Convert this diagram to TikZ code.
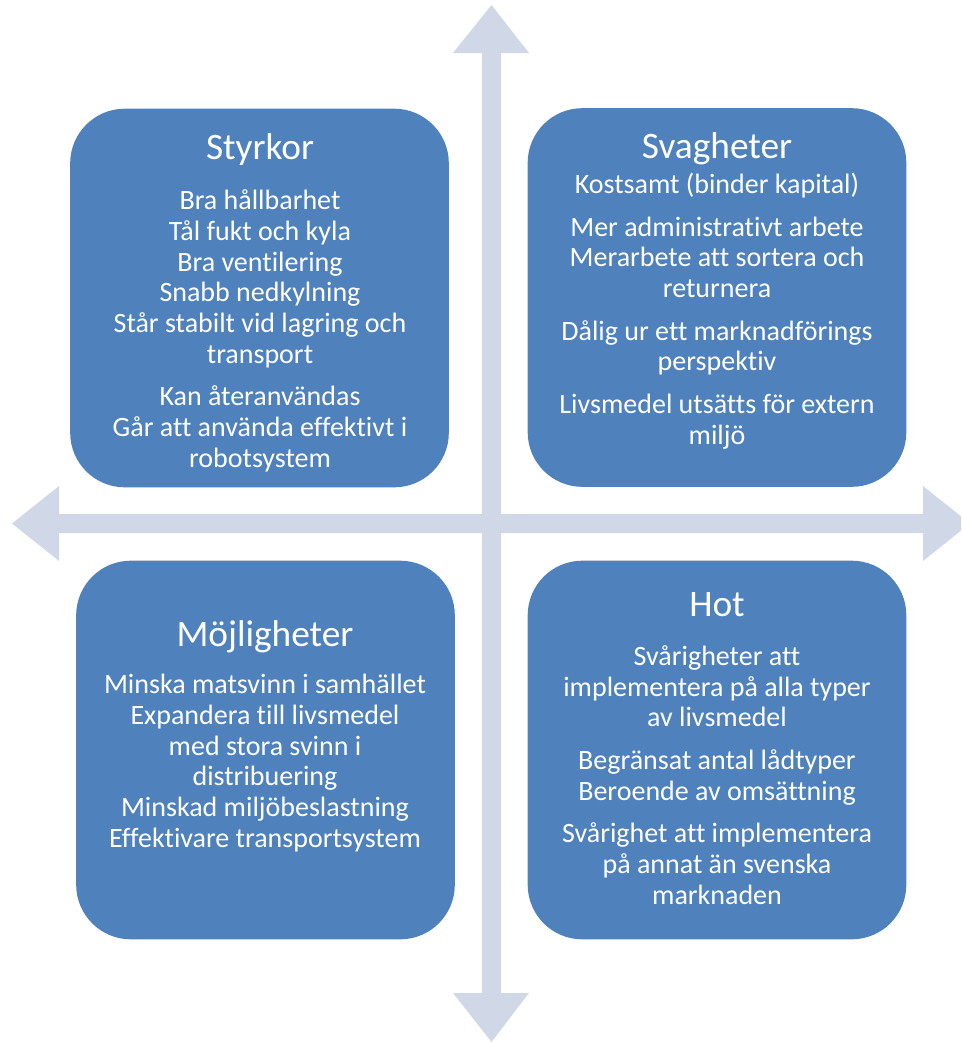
\documentclass[tikz,border=0pt]{standalone}
\usepackage{fontspec}
\setmainfont{Carlito}[Ligatures=CommonOff]
\usepackage{tikz}
\definecolor{swotblue}{HTML}{4F81BD}
\definecolor{axisgray}{HTML}{D0D8E8}
\tikzset{
	quad/.style={fill=swotblue, draw=none, rounded corners=41pt, minimum width=284pt, minimum height=284pt, inner sep=0pt},
	heading/.style={text=white, anchor=base, inner sep=0pt, font=\fontsize{28}{32}\selectfont},
	points/.style={text=white, anchor=base, align=center, inner sep=0pt, font=\fontsize{21}{23}\selectfont}
}

\begin{document}
\begin{tikzpicture}[x=0.75pt, y=-0.75pt]
			%%%%% START %%%%%
			\useasboundingbox (0, 0) rectangle (961, 1043);
			\clip (0, 0) rectangle (961, 1043);
			
			% axes
			\fill[axisgray] (491.5, 5) -- (529, 53) -- (501, 53) -- (501, 993) -- (529, 993) -- (491.5, 1042) -- (453, 993) -- (482, 993) -- (482, 53) -- (453, 53) -- cycle;
			\fill[axisgray] (12, 523.5) -- (59, 486) -- (59, 514) -- (923, 514) -- (923, 486) -- (970, 523.5) -- (923, 561) -- (923, 533) -- (59, 533) -- (59, 561) -- cycle;
			
			% the four fields
			\node[quad] (styrkor) at (259.5, 298) {};
			\node[quad] (svagheter) at (717, 297.5) {};
			\node[quad] (mojligheter) at (265.5, 750) {};
			\node[quad] (hot) at (717, 750) {};
			
			% texts, placed on the baseline of their last line
			\node[heading] (styrkorrubrik) at (260, 159) {Styrkor};
			\node[points] (styrkortext) at (260, 467) {Bra hållbarhet\\ Tål fukt och kyla\\ Bra ventilering\\ Snabb nedkylning\\ Står stabilt vid lagring och\\ transport\\[9pt] Kan återanvändas\\ Går att använda effektivt i\\ robotsystem};
			
			\node[heading] (svagheterrubrik) at (717, 158) {Svagheter};
			\node[points] (svagheterText) at (717, 444) {Kostsamt (binder kapital)\\[9pt] Mer administrativt arbete\\ Merarbete att sortera och\\ returnera\\[9pt] Dålig ur ett marknadförings\\ perspektiv\\[9pt] Livsmedel utsätts för extern\\ miljö};
			
			\node[heading] (mojligheterrubrik) at (265, 646) {Möjligheter};
			\node[points] (mojlighetertext) at (265, 847) {Minska matsvinn i samhället\\ Expandera till livsmedel\\ med stora svinn i\\ distribuering\\ Minskad miljöbeslastning\\ Effektivare transportsystem};
			
			\node[heading] (hotrubrik) at (717, 616) {Hot};
			\node[points] (hottext) at (717, 904) {Svårigheter att\\ implementera på alla typer\\ av livsmedel\\[9pt] Begränsat antal lådtyper\\ Beroende av omsättning\\[9pt] Svårighet att implementera\\ på annat än svenska\\ marknaden};
			
			%%%%% END %%%%%
\end{tikzpicture}
\end{document}
